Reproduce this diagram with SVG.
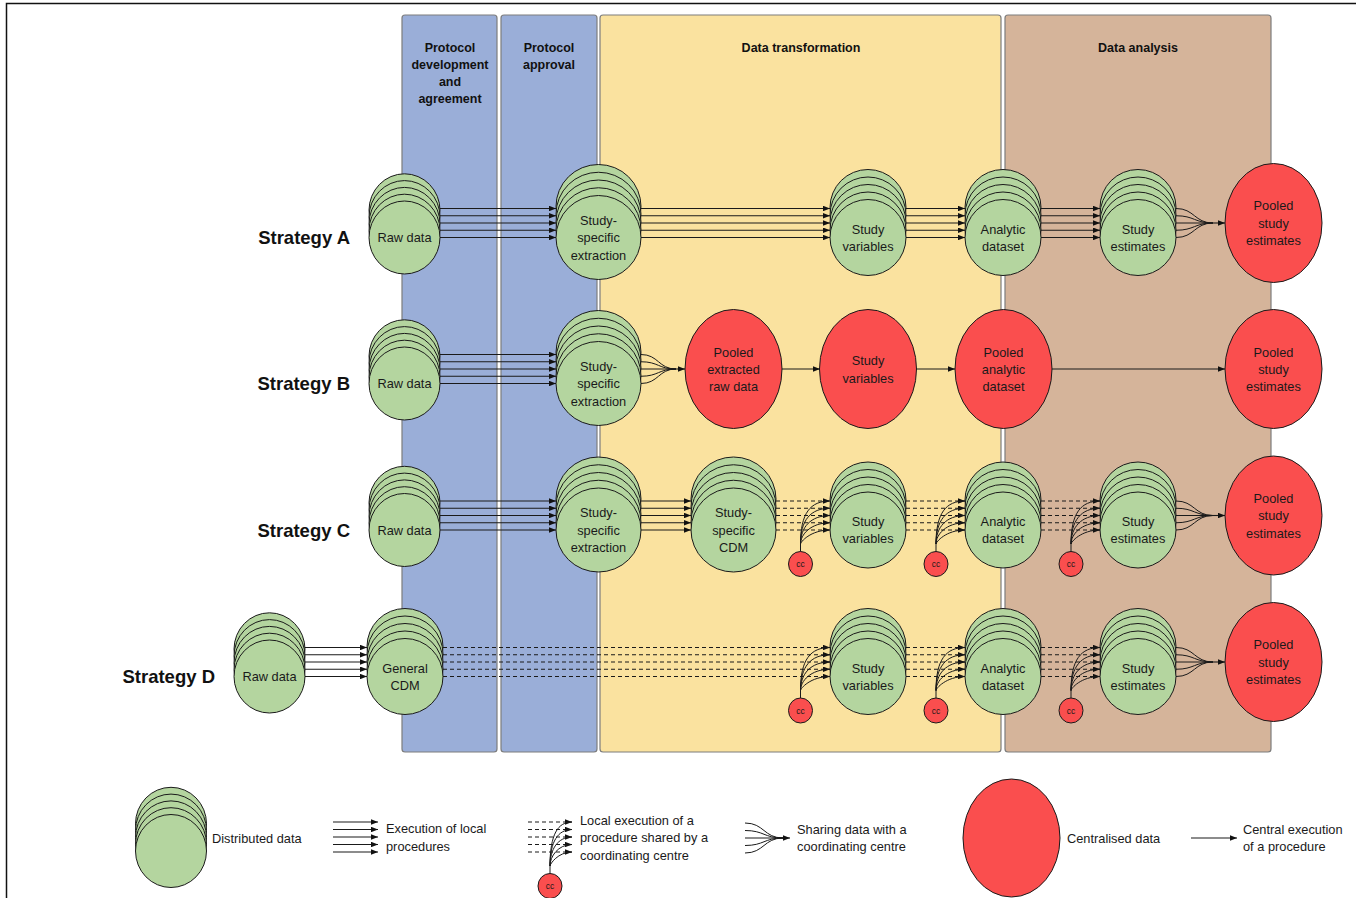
<svg xmlns="http://www.w3.org/2000/svg" xmlns:xlink="http://www.w3.org/1999/xlink" width="1356" height="898" viewBox="0 0 1356 898">
  <style>
    .lane { stroke:#7d7d7d; stroke-width:1.2; }
    .g { fill:#B4D59F; stroke:#1a1a1a; stroke-width:1; }
    .r { fill:#FA4E4E; stroke:#1a1a1a; stroke-width:1; }
    .t { font-family:"Liberation Sans", Arial, sans-serif; font-size:12.8px; fill:#1a1a1a; text-anchor:middle; }
    .h { font-family:"Liberation Sans", Arial, sans-serif; font-size:12.5px; font-weight:bold; fill:#111; text-anchor:middle; }
    .st { font-family:"Liberation Sans", Arial, sans-serif; font-size:18.5px; font-weight:bold; fill:#111; text-anchor:end; }
    .lg { font-family:"Liberation Sans", Arial, sans-serif; font-size:12.8px; fill:#1a1a1a; }
    .cct { font-family:"Liberation Sans", Arial, sans-serif; font-size:8.5px; fill:#1a1a1a; text-anchor:middle; }
    .ln { fill:none; stroke:#1a1a1a; stroke-width:1.1; marker-end:url(#ah); }
    .dl { fill:none; stroke:#1a1a1a; stroke-width:1.1; stroke-dasharray:4 3; marker-end:url(#ah); }
    .cv { fill:none; stroke:#1a1a1a; stroke-width:1; }
  </style>
  <defs>
    <marker id="ah" viewBox="0 0 7 5.5" refX="7" refY="2.75" markerWidth="7" markerHeight="5.5" markerUnits="userSpaceOnUse" orient="auto">
      <path d="M0,0 L7,2.75 L0,5.5 z" fill="#111"/>
    </marker>
    <!-- stacked circles = distributed data (front circle centred on 0,0) -->
    <g id="stkS">
      <ellipse class="g" cx="0" cy="-27.2" rx="35.5" ry="36.5"/>
      <ellipse class="g" cx="0" cy="-20.4" rx="35.5" ry="36.5"/>
      <ellipse class="g" cx="0" cy="-13.6" rx="35.5" ry="36.5"/>
      <ellipse class="g" cx="0" cy="-6.8" rx="35.5" ry="36.5"/>
      <ellipse class="g" cx="0" cy="0" rx="35.5" ry="36.5"/>
    </g>
    <g id="stkM">
      <ellipse class="g" cx="0" cy="-30" rx="38" ry="38"/>
      <ellipse class="g" cx="0" cy="-22.5" rx="38" ry="38"/>
      <ellipse class="g" cx="0" cy="-15" rx="38" ry="38"/>
      <ellipse class="g" cx="0" cy="-7.5" rx="38" ry="38"/>
      <ellipse class="g" cx="0" cy="0" rx="38" ry="38"/>
    </g>
    <g id="stkL">
      <ellipse class="g" cx="0" cy="-31" rx="42.5" ry="42"/>
      <ellipse class="g" cx="0" cy="-23.25" rx="42.5" ry="42"/>
      <ellipse class="g" cx="0" cy="-15.5" rx="42.5" ry="42"/>
      <ellipse class="g" cx="0" cy="-7.75" rx="42.5" ry="42"/>
      <ellipse class="g" cx="0" cy="0" rx="42.5" ry="42"/>
    </g>
  </defs>

  <rect width="1356" height="898" fill="#ffffff"/>
  <path d="M6.5,898 V3.5 H1356" fill="none" stroke="#111" stroke-width="1.5"/>

  <!-- phase lanes -->
  <g id="lanes">
    <rect class="lane" x="402" y="15" width="95" height="737" rx="3" fill="#9AAED8"/>
    <rect class="lane" x="501" y="15" width="96" height="737" rx="3" fill="#9AAED8"/>
    <rect class="lane" x="600" y="15" width="401" height="737" rx="3" fill="#FAE29F"/>
    <rect class="lane" x="1005" y="15" width="266" height="737" rx="3" fill="#D5B49A"/>
    <text class="h" x="450" y="51.5">Protocol</text>
    <text class="h" x="450" y="68.5">development</text>
    <text class="h" x="450" y="85.5">and</text>
    <text class="h" x="450" y="103">agreement</text>
    <text class="h" x="549" y="51.5">Protocol</text>
    <text class="h" x="549" y="68.5">approval</text>
    <text class="h" x="801" y="51.5">Data transformation</text>
    <text class="h" x="1138" y="51.5">Data analysis</text>
  </g>

  <g id="strategy-labels">
    <text class="st" x="350" y="243.5">Strategy A</text>
    <text class="st" x="350" y="390">Strategy B</text>
    <text class="st" x="350" y="536.5">Strategy C</text>
    <text class="st" x="215" y="682.5">Strategy D</text>
  </g>

  <!-- Strategy A nodes -->
  <g id="a-raw"><use xlink:href="#stkS" x="404.5" y="237.5"/><text class="t" x="404.5" y="242">Raw data</text></g>
  <g id="a-extraction"><use xlink:href="#stkL" x="598.5" y="237.5"/><text class="t" x="598.5" y="224.5">Study-</text><text class="t" x="598.5" y="242">specific</text><text class="t" x="598.5" y="259.5">extraction</text></g>
  <g id="a-variables"><use xlink:href="#stkM" x="868" y="237.5"/><text class="t" x="868" y="233.5">Study</text><text class="t" x="868" y="250.5">variables</text></g>
  <g id="a-analytic"><use xlink:href="#stkM" x="1003" y="237.5"/><text class="t" x="1003" y="233.5">Analytic</text><text class="t" x="1003" y="250.5">dataset</text></g>
  <g id="a-estimates"><use xlink:href="#stkM" x="1138" y="237.5"/><text class="t" x="1138" y="233.5">Study</text><text class="t" x="1138" y="250.5">estimates</text></g>
  <g id="a-pooled"><ellipse class="r" cx="1273.5" cy="223" rx="48.5" ry="59.5"/><text class="t" x="1273.5" y="210">Pooled</text><text class="t" x="1273.5" y="227.5">study</text><text class="t" x="1273.5" y="245">estimates</text></g>

  <!-- Strategy B nodes -->
  <g id="b-raw"><use xlink:href="#stkS" x="404.5" y="383.5"/><text class="t" x="404.5" y="388">Raw data</text></g>
  <g id="b-extraction"><use xlink:href="#stkL" x="598.5" y="383.5"/><text class="t" x="598.5" y="370.5">Study-</text><text class="t" x="598.5" y="388">specific</text><text class="t" x="598.5" y="405.5">extraction</text></g>
  <g id="b-pooled-raw"><ellipse class="r" cx="733.5" cy="369" rx="48.5" ry="59.5"/><text class="t" x="733.5" y="356.5">Pooled</text><text class="t" x="733.5" y="373.5">extracted</text><text class="t" x="733.5" y="391">raw data</text></g>
  <g id="b-variables"><ellipse class="r" cx="868" cy="369" rx="48.5" ry="59.5"/><text class="t" x="868" y="365">Study</text><text class="t" x="868" y="382.5">variables</text></g>
  <g id="b-analytic"><ellipse class="r" cx="1003.5" cy="369" rx="48.5" ry="59.5"/><text class="t" x="1003.5" y="356.5">Pooled</text><text class="t" x="1003.5" y="373.5">analytic</text><text class="t" x="1003.5" y="391">dataset</text></g>
  <g id="b-pooled"><ellipse class="r" cx="1273.5" cy="369" rx="48.5" ry="59.5"/><text class="t" x="1273.5" y="356.5">Pooled</text><text class="t" x="1273.5" y="373.5">study</text><text class="t" x="1273.5" y="391">estimates</text></g>

  <!-- Strategy C nodes -->
  <g id="c-raw"><use xlink:href="#stkS" x="404.5" y="530"/><text class="t" x="404.5" y="534.5">Raw data</text></g>
  <g id="c-extraction"><use xlink:href="#stkL" x="598.5" y="530"/><text class="t" x="598.5" y="517">Study-</text><text class="t" x="598.5" y="534.5">specific</text><text class="t" x="598.5" y="552">extraction</text></g>
  <g id="c-cdm"><use xlink:href="#stkL" x="733.5" y="530"/><text class="t" x="733.5" y="517">Study-</text><text class="t" x="733.5" y="534.5">specific</text><text class="t" x="733.5" y="552">CDM</text></g>
  <g id="c-variables"><use xlink:href="#stkM" x="868" y="530"/><text class="t" x="868" y="526">Study</text><text class="t" x="868" y="543">variables</text></g>
  <g id="c-analytic"><use xlink:href="#stkM" x="1003" y="530"/><text class="t" x="1003" y="526">Analytic</text><text class="t" x="1003" y="543">dataset</text></g>
  <g id="c-estimates"><use xlink:href="#stkM" x="1138" y="530"/><text class="t" x="1138" y="526">Study</text><text class="t" x="1138" y="543">estimates</text></g>
  <g id="c-pooled"><ellipse class="r" cx="1273.5" cy="515.5" rx="48.5" ry="59.5"/><text class="t" x="1273.5" y="502.5">Pooled</text><text class="t" x="1273.5" y="520">study</text><text class="t" x="1273.5" y="537.5">estimates</text></g>

  <!-- Strategy D nodes -->
  <g id="d-raw"><use xlink:href="#stkS" x="269.5" y="676.5"/><text class="t" x="269.5" y="681">Raw data</text></g>
  <g id="d-cdm"><use xlink:href="#stkM" x="405" y="676.5"/><text class="t" x="405" y="672.5">General</text><text class="t" x="405" y="689.5">CDM</text></g>
  <g id="d-variables"><use xlink:href="#stkM" x="868" y="676.5"/><text class="t" x="868" y="672.5">Study</text><text class="t" x="868" y="689.5">variables</text></g>
  <g id="d-analytic"><use xlink:href="#stkM" x="1003" y="676.5"/><text class="t" x="1003" y="672.5">Analytic</text><text class="t" x="1003" y="689.5">dataset</text></g>
  <g id="d-estimates"><use xlink:href="#stkM" x="1138" y="676.5"/><text class="t" x="1138" y="672.5">Study</text><text class="t" x="1138" y="689.5">estimates</text></g>
  <g id="d-pooled"><ellipse class="r" cx="1273.5" cy="662" rx="48.5" ry="59.5"/><text class="t" x="1273.5" y="649">Pooled</text><text class="t" x="1273.5" y="666.5">study</text><text class="t" x="1273.5" y="684">estimates</text></g>

  <!-- coordinating centres -->
  <g id="cc-nodes">
    <ellipse class="r" cx="800.5" cy="564" rx="12" ry="12.5"/><text class="cct" x="800.5" y="567">cc</text>
    <ellipse class="r" cx="936" cy="564" rx="12" ry="12.5"/><text class="cct" x="936" y="567">cc</text>
    <ellipse class="r" cx="1071" cy="564" rx="12" ry="12.5"/><text class="cct" x="1071" y="567">cc</text>
    <ellipse class="r" cx="800.5" cy="710.5" rx="12" ry="12.5"/><text class="cct" x="800.5" y="713.5">cc</text>
    <ellipse class="r" cx="936" cy="710.5" rx="12" ry="12.5"/><text class="cct" x="936" y="713.5">cc</text>
    <ellipse class="r" cx="1071" cy="710.5" rx="12" ry="12.5"/><text class="cct" x="1071" y="713.5">cc</text>
  </g>

  <g id="connectors">
    <!-- Strategy A -->
    <path class="ln" d="M440,208.5H556"/><path class="ln" d="M440,215.75H556"/><path class="ln" d="M440,223H556"/><path class="ln" d="M440,230.25H556"/><path class="ln" d="M440,237.5H556"/>
    <path class="ln" d="M641,208.5H830"/><path class="ln" d="M641,215.75H830"/><path class="ln" d="M641,223H830"/><path class="ln" d="M641,230.25H830"/><path class="ln" d="M641,237.5H830"/>
    <path class="ln" d="M906,208.5H965"/><path class="ln" d="M906,215.75H965"/><path class="ln" d="M906,223H965"/><path class="ln" d="M906,230.25H965"/><path class="ln" d="M906,237.5H965"/>
    <path class="ln" d="M1041,208.5H1100"/><path class="ln" d="M1041,215.75H1100"/><path class="ln" d="M1041,223H1100"/><path class="ln" d="M1041,230.25H1100"/><path class="ln" d="M1041,237.5H1100"/>
    <path class="cv" d="M1176,208.5C1194.5,208.5 1194.5,223 1213,223 M1176,215.75C1194.5,215.75 1194.5,223 1213,223 M1176,223H1213 M1176,230.25C1194.5,230.25 1194.5,223 1213,223 M1176,237.5C1194.5,237.5 1194.5,223 1213,223"/>
    <path class="ln" d="M1213,223H1225"/>

    <!-- Strategy B -->
    <path class="ln" d="M440,354.5H556"/><path class="ln" d="M440,361.75H556"/><path class="ln" d="M440,369H556"/><path class="ln" d="M440,376.25H556"/><path class="ln" d="M440,383.5H556"/>
    <path class="cv" d="M641,354.5C658.5,354.5 658.5,369 676,369 M641,361.75C658.5,361.75 658.5,369 676,369 M641,369H676 M641,376.25C658.5,376.25 658.5,369 676,369 M641,383.5C658.5,383.5 658.5,369 676,369"/>
    <path class="ln" d="M676,369H685"/>
    <path class="ln" d="M782,369H820"/>
    <path class="ln" d="M916.5,369H955"/>
    <path class="ln" d="M1052,369H1225"/>

    <!-- Strategy C -->
    <path class="ln" d="M440,501H556"/><path class="ln" d="M440,508.25H556"/><path class="ln" d="M440,515.5H556"/><path class="ln" d="M440,522.75H556"/><path class="ln" d="M440,530H556"/>
    <path class="ln" d="M641,501H691"/><path class="ln" d="M641,508.25H691"/><path class="ln" d="M641,515.5H691"/><path class="ln" d="M641,522.75H691"/><path class="ln" d="M641,530H691"/>
    <path class="dl" d="M776,501H830"/><path class="dl" d="M776,508.25H830"/><path class="dl" d="M776,515.5H830"/><path class="dl" d="M776,522.75H830"/><path class="dl" d="M776,530H830"/>
    <path class="cv" d="M800.5,551.5V544 M800.5,544C800.5,513 810.5,501 830,501 M800.5,544C800.5,520.25 810.5,508.25 830,508.25 M800.5,544C800.5,527.5 810.5,515.5 830,515.5 M800.5,544C800.5,534.75 810.5,522.75 830,522.75 M800.5,544C800.5,542 810.5,530 830,530"/>
    <path class="dl" d="M906,501H965"/><path class="dl" d="M906,508.25H965"/><path class="dl" d="M906,515.5H965"/><path class="dl" d="M906,522.75H965"/><path class="dl" d="M906,530H965"/>
    <path class="cv" d="M936,551.5V544 M936,544C936,513 946,501 965,501 M936,544C936,520.25 946,508.25 965,508.25 M936,544C936,527.5 946,515.5 965,515.5 M936,544C936,534.75 946,522.75 965,522.75 M936,544C936,542 946,530 965,530"/>
    <path class="dl" d="M1041,501H1100"/><path class="dl" d="M1041,508.25H1100"/><path class="dl" d="M1041,515.5H1100"/><path class="dl" d="M1041,522.75H1100"/><path class="dl" d="M1041,530H1100"/>
    <path class="cv" d="M1071,551.5V544 M1071,544C1071,513 1081,501 1100,501 M1071,544C1071,520.25 1081,508.25 1100,508.25 M1071,544C1071,527.5 1081,515.5 1100,515.5 M1071,544C1071,534.75 1081,522.75 1100,522.75 M1071,544C1071,542 1081,530 1100,530"/>
    <path class="cv" d="M1176,501C1194.5,501 1194.5,515.5 1213,515.5 M1176,508.25C1194.5,508.25 1194.5,515.5 1213,515.5 M1176,515.5H1213 M1176,522.75C1194.5,522.75 1194.5,515.5 1213,515.5 M1176,530C1194.5,530 1194.5,515.5 1213,515.5"/>
    <path class="ln" d="M1213,515.5H1225"/>

    <!-- Strategy D -->
    <path class="ln" d="M305,647.5H367"/><path class="ln" d="M305,654.75H367"/><path class="ln" d="M305,662H367"/><path class="ln" d="M305,669.25H367"/><path class="ln" d="M305,676.5H367"/>
    <path class="dl" d="M443,647.5H830"/><path class="dl" d="M443,654.75H830"/><path class="dl" d="M443,662H830"/><path class="dl" d="M443,669.25H830"/><path class="dl" d="M443,676.5H830"/>
    <path class="cv" d="M800.5,698V690.5 M800.5,690.5C800.5,659.5 810.5,647.5 830,647.5 M800.5,690.5C800.5,666.75 810.5,654.75 830,654.75 M800.5,690.5C800.5,674 810.5,662 830,662 M800.5,690.5C800.5,681.25 810.5,669.25 830,669.25 M800.5,690.5C800.5,688.5 810.5,676.5 830,676.5"/>
    <path class="dl" d="M906,647.5H965"/><path class="dl" d="M906,654.75H965"/><path class="dl" d="M906,662H965"/><path class="dl" d="M906,669.25H965"/><path class="dl" d="M906,676.5H965"/>
    <path class="cv" d="M936,698V690.5 M936,690.5C936,659.5 946,647.5 965,647.5 M936,690.5C936,666.75 946,654.75 965,654.75 M936,690.5C936,674 946,662 965,662 M936,690.5C936,681.25 946,669.25 965,669.25 M936,690.5C936,688.5 946,676.5 965,676.5"/>
    <path class="dl" d="M1041,647.5H1100"/><path class="dl" d="M1041,654.75H1100"/><path class="dl" d="M1041,662H1100"/><path class="dl" d="M1041,669.25H1100"/><path class="dl" d="M1041,676.5H1100"/>
    <path class="cv" d="M1071,698V690.5 M1071,690.5C1071,659.5 1081,647.5 1100,647.5 M1071,690.5C1071,666.75 1081,654.75 1100,654.75 M1071,690.5C1071,674 1081,662 1100,662 M1071,690.5C1071,681.25 1081,669.25 1100,669.25 M1071,690.5C1071,688.5 1081,676.5 1100,676.5"/>
    <path class="cv" d="M1176,647.5C1194.5,647.5 1194.5,662 1213,662 M1176,654.75C1194.5,654.75 1194.5,662 1213,662 M1176,662H1213 M1176,669.25C1194.5,669.25 1194.5,662 1213,662 M1176,676.5C1194.5,676.5 1194.5,662 1213,662"/>
    <path class="ln" d="M1213,662H1225"/>
  </g>

  <!-- key -->
  <g id="legend">
    <use xlink:href="#stkS" x="171" y="851"/>
    <text class="lg" x="212" y="842.5">Distributed data</text>

    <path class="ln" d="M333,822H378"/><path class="ln" d="M333,829.5H378"/><path class="ln" d="M333,837H378"/><path class="ln" d="M333,844.5H378"/><path class="ln" d="M333,852H378"/>
    <text class="lg" x="386" y="832.5">Execution of local</text>
    <text class="lg" x="386" y="850.5">procedures</text>

    <path class="dl" d="M528,822H572"/><path class="dl" d="M528,829.5H572"/><path class="dl" d="M528,837H572"/><path class="dl" d="M528,844.5H572"/><path class="dl" d="M528,852H572"/>
    <path class="cv" d="M550,873.5V866 M550,866C550,834 558,822 572,822 M550,866C550,841.5 558,829.5 572,829.5 M550,866C550,849 558,837 572,837 M550,866C550,856.5 558,844.5 572,844.5 M550,866C550,864 558,852 572,852"/>
    <ellipse class="r" cx="550" cy="886" rx="12" ry="12.5"/><text class="cct" x="550" y="889">cc</text>
    <text class="lg" x="580" y="824.5">Local execution of a</text>
    <text class="lg" x="580" y="841.5">procedure shared by a</text>
    <text class="lg" x="580" y="859.5">coordinating centre</text>

    <path class="cv" d="M745,823C764,823 764,838 783,838 M745,830.5C764,830.5 764,838 783,838 M745,838H783 M745,845.5C764,845.5 764,838 783,838 M745,853C764,853 764,838 783,838"/>
    <path class="ln" d="M783,838H790"/>
    <text class="lg" x="797" y="833.5">Sharing data with a</text>
    <text class="lg" x="797" y="850.5">coordinating centre</text>

    <ellipse class="r" cx="1011.5" cy="838" rx="48.5" ry="59"/>
    <text class="lg" x="1067" y="842.5">Centralised data</text>

    <path class="ln" d="M1191,838H1237"/>
    <text class="lg" x="1243" y="833.5">Central execution</text>
    <text class="lg" x="1243" y="850.5">of a procedure</text>
  </g>
</svg>
